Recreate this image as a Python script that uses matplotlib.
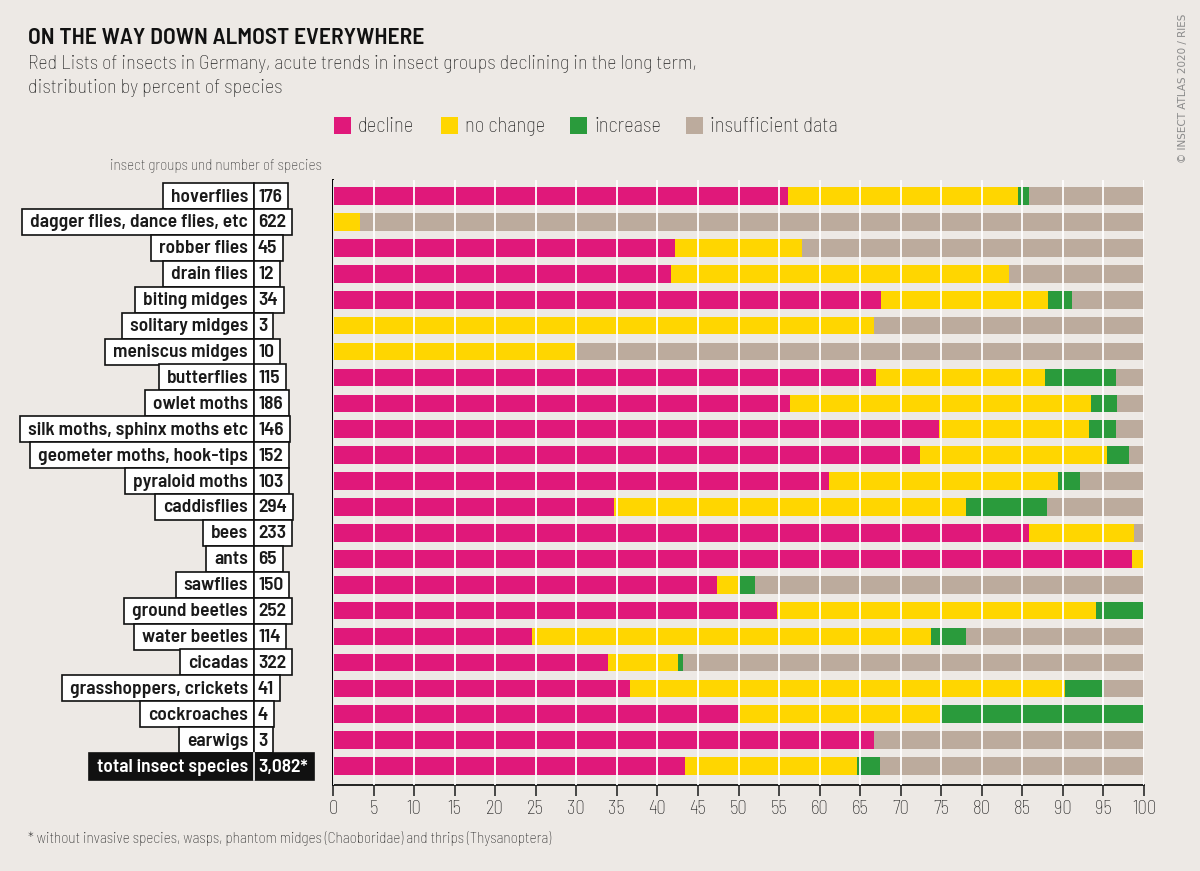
import matplotlib
matplotlib.use("Agg")
import matplotlib.pyplot as plt
from matplotlib.patches import Rectangle
from matplotlib.transforms import IdentityTransform

plt.rcParams['font.family'] = ['Barlow Semi Condensed', 'DejaVu Sans']

groups = ["hoverflies", "dagger flies, dance flies, etc", "robber flies", "drain flies",
          "biting midges", "solitary midges", "meniscus midges", "butterflies",
          "owlet moths", "silk moths, sphinx moths etc", "geometer moths, hook-tips",
          "pyraloid moths", "caddisflies", "bees", "ants", "sawflies", "ground beetles",
          "water beetles", "cicadas", "grasshoppers, crickets", "cockroaches", "earwigs",
          "total insect species"]
species = ["176", "622", "45", "12", "34", "3", "10", "115", "186", "146", "152", "103",
           "294", "233", "65", "150", "252", "114", "322", "41", "4", "3", "3,082*"]

decline = [56.1, 0, 42.2, 41.7, 67.6, 0, 0, 66.9, 56.4, 74.7, 72.4, 61.2,
           34.7, 85.8, 98.5, 47.3, 54.8, 24.5, 33.9, 36.6, 50, 66.7, 43.4]
no_change = [28.4, 3.3, 15.6, 41.7, 20.6, 66.7, 30, 20.9, 37.1, 18.5, 23.0, 28.2,
             43.3, 13.0, 1.5, 2.7, 39.3, 49.2, 8.6, 53.6, 25, 0, 21.2]
increase = [1.3, 0, 0, 0, 2.9, 0, 0, 8.7, 3.2, 3.4, 2.7, 2.7,
            10.1, 0, 0, 2.0, 5.9, 4.4, 0.6, 4.9, 25, 0, 2.8]
insufficient = [14.2, 96.7, 42.2, 16.6, 8.9, 33.3, 70, 3.5, 3.3, 3.4, 1.9, 7.9,
                11.9, 1.2, 0, 48.0, 0, 21.9, 56.9, 4.9, 0, 33.3, 32.6]

series = [("decline", decline, "#e0187a"),
          ("no change", no_change, "#ffd600"),
          ("increase", increase, "#2a9b3c"),
          ("insufficient data", insufficient, "#bcab9d")]

BG = "#ede9e5"
W, H = 1200, 871

fig = plt.figure(figsize=(12, 8.71), dpi=100, facecolor=BG)
ax = fig.add_axes([333 / W, 86 / H, 811 / W, 605 / H])
ax.set_facecolor(BG)

y = list(range(len(groups)))
left = [0] * len(groups)
for name, vals, col in series:
    ax.barh(y, vals, left=left, height=0.68, color=col, linewidth=0, zorder=1)
    left = [a + b for a, b in zip(left, vals)]

ax.set_xlim(0, 100)
ax.set_ylim(len(groups) - 1 + 0.73, -0.62)
ax.set_xticks(range(0, 101, 5))
ax.set_yticks([])
ax.xaxis.grid(True, color="white", linewidth=1.3)
ax.set_axisbelow(False)
for s in ["top", "right"]:
    ax.spines[s].set_visible(False)
ax.spines["left"].set_linewidth(1.4)
ax.spines["bottom"].set_linewidth(1.2)
ax.tick_params(axis="x", length=8, width=1.1, labelsize=13.5, colors="#1a1a1a", pad=3)
for lab in ax.get_xticklabels():
    lab.set_fontweight("light")

# left labels with boxes
renderer = fig.canvas.get_renderer()
sep = 254
for i, (g, n) in enumerate(zip(groups, species)):
    yc = ax.transData.transform((0, i))[1]
    total = (i == len(groups) - 1)
    tcol = "white" if total else "#1a1a1a"
    t1 = fig.text(248 / W, (yc - 1) / H, g, ha="right", va="center", fontsize=14,
                  fontweight="semibold", color=tcol, zorder=5)
    t2 = fig.text(258 / W, (yc - 1) / H, n, ha="left", va="center", fontsize=14,
                  fontweight="semibold", color=tcol, zorder=5)
    e1 = t1.get_window_extent(renderer)
    e2 = t2.get_window_extent(renderer)
    x0 = e1.x0 - 8
    x1 = e2.x1 + 6
    fc = "#111111" if total else "white"
    hgt = 26 if not total else 27
    fig.add_artist(Rectangle((x0, yc - hgt / 2), sep - x0, hgt, transform=IdentityTransform(),
                             facecolor=fc, edgecolor="#111111", linewidth=1.2, zorder=3))
    fig.add_artist(Rectangle((sep, yc - hgt / 2), x1 - sep, hgt, transform=IdentityTransform(),
                             facecolor=fc, edgecolor="#111111", linewidth=1.2, zorder=3))
    if total:
        fig.add_artist(plt.Line2D([sep / W, sep / W], [(yc - hgt / 2) / H, (yc + hgt / 2) / H],
                                  color="white", linewidth=1.2, zorder=4))

# titles
fig.text(28 / W, 1 - 38 / H, "ON THE WAY DOWN ALMOST EVERYWHERE", fontsize=17,
         fontweight="semibold", color="#111111", va="center", ha="left")
fig.text(28 / W, 1 - 64 / H,
         "Red Lists of insects in Germany, acute trends in insect groups declining in the long term,",
         fontsize=14.5, fontweight="light", color="#222222", va="center", ha="left")
fig.text(28 / W, 1 - 88 / H, "distribution by percent of species",
         fontsize=14.5, fontweight="light", color="#222222", va="center", ha="left")
fig.text(322 / W, 1 - 166 / H, "insect groups und number of species", fontsize=11,
         fontweight="light", color="#333333", va="center", ha="right")

# legend
leg_x = [334, 441, 570, 686]
for (name, vals, col), lx in zip(series, leg_x):
    fig.add_artist(Rectangle((lx / W, 1 - 134 / H), 17 / W, 17 / H, transform=fig.transFigure,
                             facecolor=col, edgecolor="none"))
    fig.text((lx + 24) / W, 1 - 126 / H, name, fontsize=14.8, fontweight="light",
             color="#222222", va="center", ha="left")

# footnote and credit
fig.text(28 / W, 1 - 838 / H,
         "* without invasive species, wasps, phantom midges (Chaoboridae) and thrips (Thysanoptera)",
         fontsize=11, fontweight="light", color="#222222", va="center", ha="left")
fig.text(1183 / W, 1 - 88 / H, "© INSECT ATLAS 2020 / RIES", rotation=90, fontsize=7.5,
         color="#8a8a8a", va="center", ha="center", family=["DejaVu Sans"])

fig.savefig("out.png", dpi=100, facecolor=BG)
